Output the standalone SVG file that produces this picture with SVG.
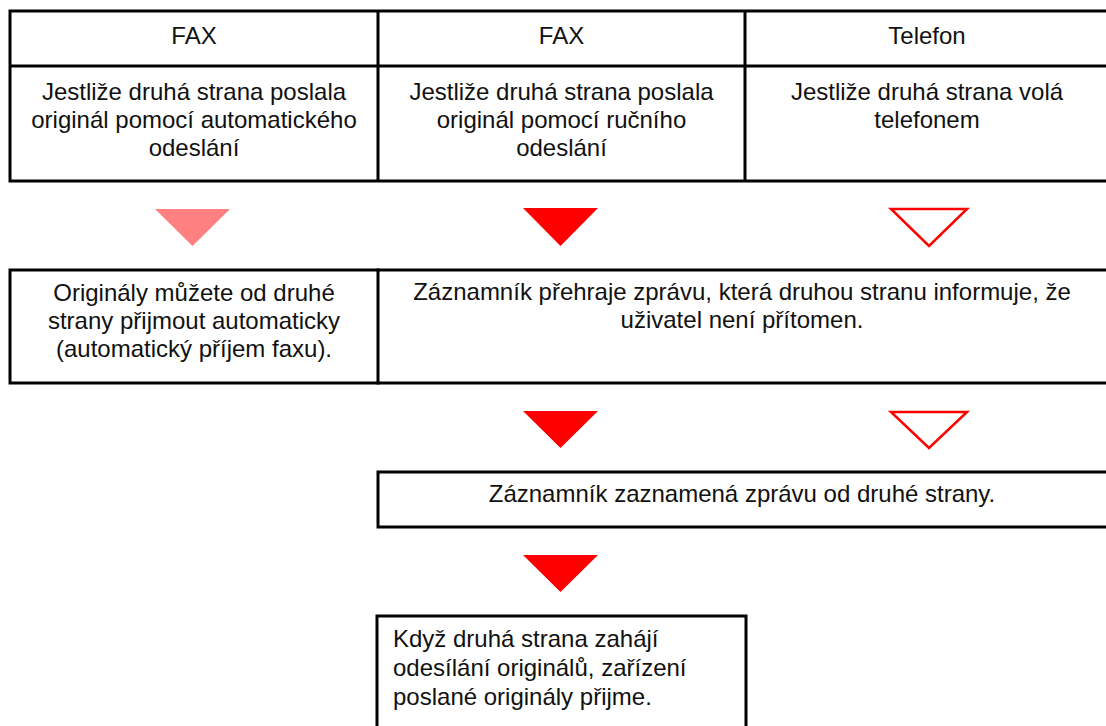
<svg xmlns="http://www.w3.org/2000/svg" width="1106" height="726" viewBox="0 0 1106 726">
<style>
.ln{stroke:#000;stroke-width:3;fill:none;stroke-linecap:square}
.t{font-family:"Liberation Sans",Arial,sans-serif;font-size:24px;fill:#111;text-anchor:middle}
.tl{font-family:"Liberation Sans",Arial,sans-serif;font-size:24px;fill:#111;text-anchor:start}
.red{fill:#ff0000}
.pink{fill:#ff8080}
.hollow{fill:#fff;stroke:#ff0000;stroke-width:2.5;stroke-linejoin:miter}
</style>
<rect width="1106" height="726" fill="#fff"/>
<g id="table">
<path class="ln" d="M10 11H1110M10 66H1110M10 181H1110M10 11V181M378 11V181M745 11V181"/>
</g>
<g id="col1">
<text class="t" x="194" y="44">FAX</text>
<text class="t" x="194" y="100">Jestliže druhá strana poslala</text>
<text class="t" x="194" y="128">originál pomocí automatického</text>
<text class="t" x="194" y="156">odeslání</text>
</g>
<g id="col2">
<text class="t" x="561.5" y="44">FAX</text>
<text class="t" x="561.5" y="100">Jestliže druhá strana poslala</text>
<text class="t" x="561.5" y="128">originál pomocí ručního</text>
<text class="t" x="561.5" y="156">odeslání</text>
</g>
<g id="col3">
<text class="t" x="927" y="44">Telefon</text>
<text class="t" x="927" y="100">Jestliže druhá strana volá</text>
<text class="t" x="927" y="128">telefonem</text>
</g>
<g id="connectors">
<polygon class="pink" points="155,209 230,209 192.5,246"/>
<polygon class="red" points="523,208 598,208 560.5,246"/>
<polygon class="hollow" points="891,209 967,209 929,246"/>
<polygon class="red" points="523,411 598,411 560.5,448"/>
<polygon class="hollow" points="891,412 967,412 929,448"/>
<polygon class="red" points="523,555 598,555 560.5,592"/>
</g>
<g id="auto-receive">
<path class="ln" d="M10 270H378M10 383H378M10 270V383M378 270V383"/>
<text class="t" x="194" y="301">Originály můžete od druhé</text>
<text class="t" x="194" y="329">strany přijmout automaticky</text>
<text class="t" x="194" y="357">(automatický příjem faxu).</text>
</g>
<g id="answering-message">
<path class="ln" d="M378 270H1110M378 383H1110"/>
<text class="t" x="742" y="300">Záznamník přehraje zprávu, která druhou stranu informuje, že</text>
<text class="t" x="742" y="328">uživatel není přítomen.</text>
</g>
<g id="record-message">
<path class="ln" d="M378 472H1110M378 527H1110M378 472V527"/>
<text class="t" x="742" y="502">Záznamník zaznamená zprávu od druhé strany.</text>
</g>
<g id="receive-originals">
<path class="ln" d="M377 616H746M377 616V730M746 616V730"/>
<text class="tl" x="393" y="647">Když druhá strana zahájí</text>
<text class="tl" x="393" y="676">odesílání originálů, zařízení</text>
<text class="tl" x="393" y="705">poslané originály přijme.</text>
</g>
</svg>
